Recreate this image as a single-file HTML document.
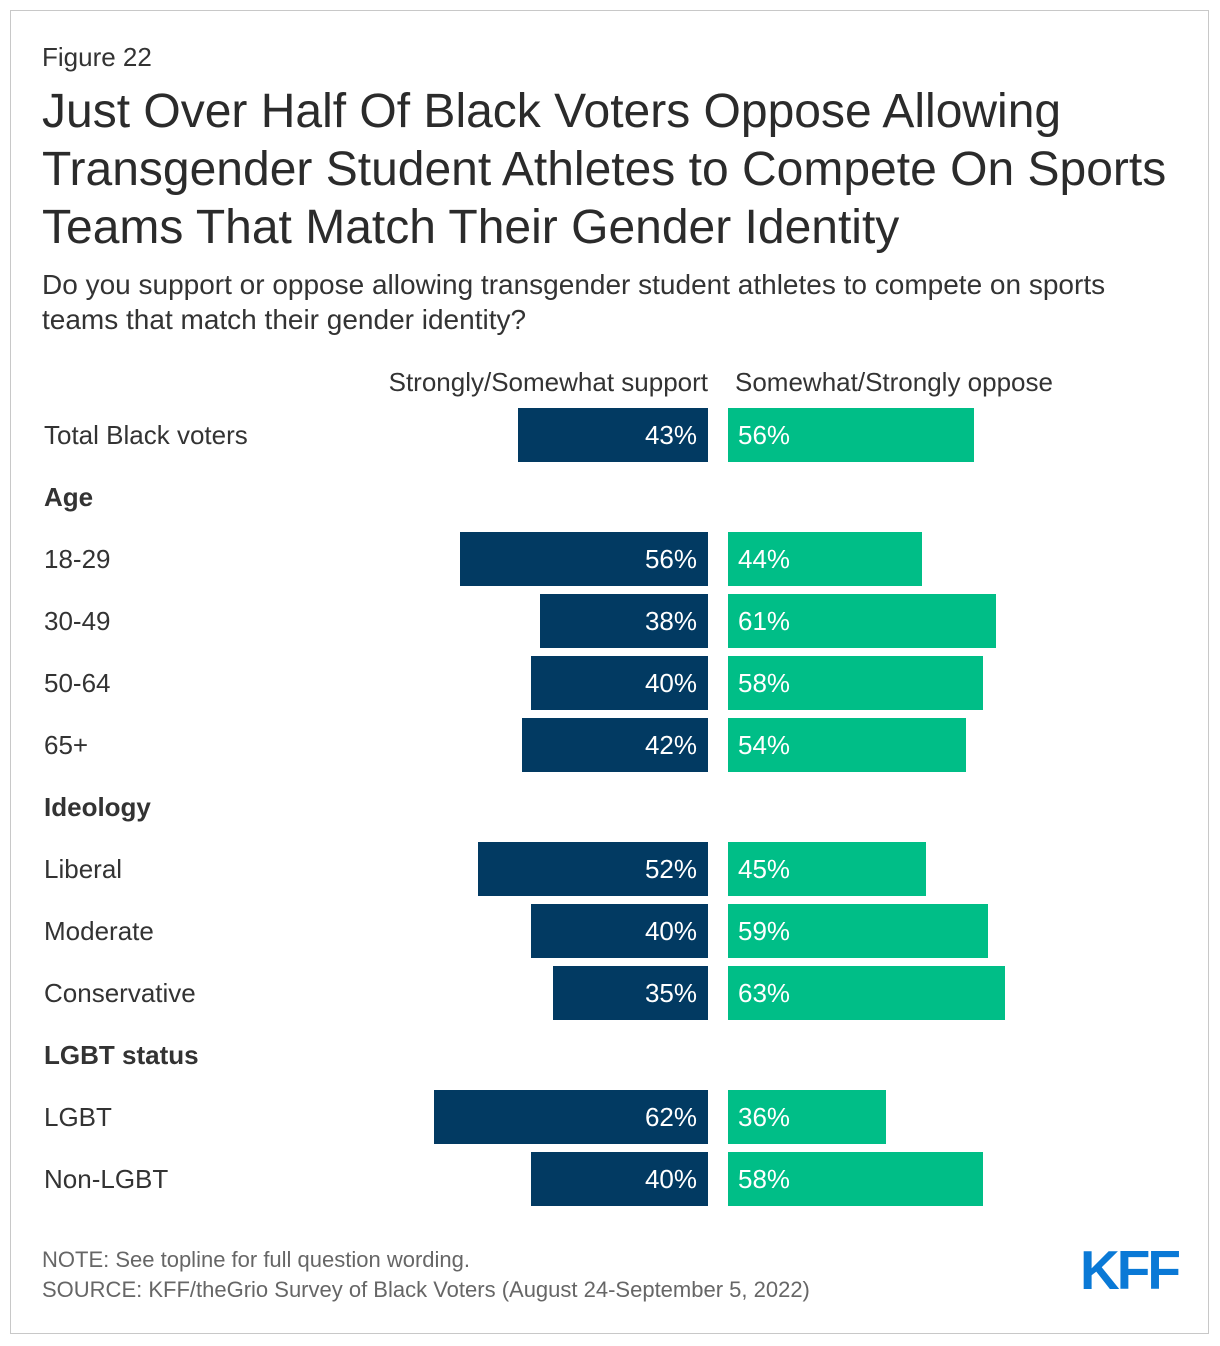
<!DOCTYPE html>
<html><head><meta charset="utf-8"><style>
body{margin:0;background:#fff;font-family:"Liberation Sans",Arial,sans-serif;}
#frame{position:absolute;left:10px;top:10px;width:1197px;height:1322px;border:1px solid #c8c8c8;}
.t{position:absolute;color:#333;white-space:nowrap;}
</style></head><body>
<div id="frame"></div>
<div class="t" style="left:42px;top:42px;font-size:26px;">Figure 22</div>
<div class="t" style="left:42px;top:83px;font-size:48px;line-height:58px;color:#2b2b2b;">Just Over Half Of Black Voters Oppose Allowing<br>Transgender Student Athletes to Compete On Sports<br>Teams That Match Their Gender Identity</div>
<div class="t" style="left:42px;top:267px;font-size:28px;line-height:35px;">Do you support or oppose allowing transgender student athletes to compete on sports<br>teams that match their gender identity?</div>
<div class="t" style="right:512px;top:367px;font-size:26px;">Strongly/Somewhat support</div>
<div class="t" style="left:735px;top:367px;font-size:26px;">Somewhat/Strongly oppose</div>
<div id="chart"></div>
<div class="t" style="left:42px;top:1247px;font-size:22px;color:#666;">NOTE: See topline for full question wording.</div>
<div class="t" style="left:42px;top:1277px;font-size:22px;color:#666;">SOURCE: KFF/theGrio Survey of Black Voters (August 24-September 5, 2022)</div>
<div class="t" style="left:1080px;top:1238px;font-size:55px;font-weight:bold;color:#0a79d6;letter-spacing:-3px;">KFF</div>
<script>
const categories=["Total Black voters","Age","18-29","30-49","50-64","65+","Ideology","Liberal","Moderate","Conservative","LGBT status","LGBT","Non-LGBT"];
const supportVals=[43,null,56,38,40,42,null,52,40,35,null,62,40];
const opposeVals=[56,null,44,61,58,54,null,45,59,63,null,36,58];
const scaleL=4.42, scaleR=4.40, mid=708, rStart=728, rowH=62, top0=408, barH=54;
const chart=document.getElementById('chart');
categories.forEach((c,i)=>{
  const y=top0+i*rowH;
  const lab=document.createElement('div');
  lab.className='t';
  const hdr=supportVals[i]===null;
  lab.style.cssText=`left:44px;top:${y}px;height:${barH}px;line-height:${barH}px;font-size:26px;${hdr?'font-weight:bold;':''}`;
  lab.textContent=c;
  
  
  chart.appendChild(lab);
  if(hdr)return;
  const s=supportVals[i]*scaleL;
  const b1=document.createElement('div');
  b1.style.cssText=`position:absolute;left:${mid-s}px;top:${y}px;width:${s}px;height:${barH}px;background:#023a62;color:#fff;font-size:26px;line-height:${barH}px;text-align:right;box-sizing:border-box;padding-right:11px;`;
  b1.textContent=supportVals[i]+'%';
  
  
  chart.appendChild(b1);
  const o=opposeVals[i]*scaleR;
  const b2=document.createElement('div');
  b2.style.cssText=`position:absolute;left:${rStart}px;top:${y}px;width:${o}px;height:${barH}px;background:#00be87;color:#fff;font-size:26px;line-height:${barH}px;box-sizing:border-box;padding-left:10px;`;
  b2.textContent=opposeVals[i]+'%';
  
  
  chart.appendChild(b2);
});
</script>
</body></html>
